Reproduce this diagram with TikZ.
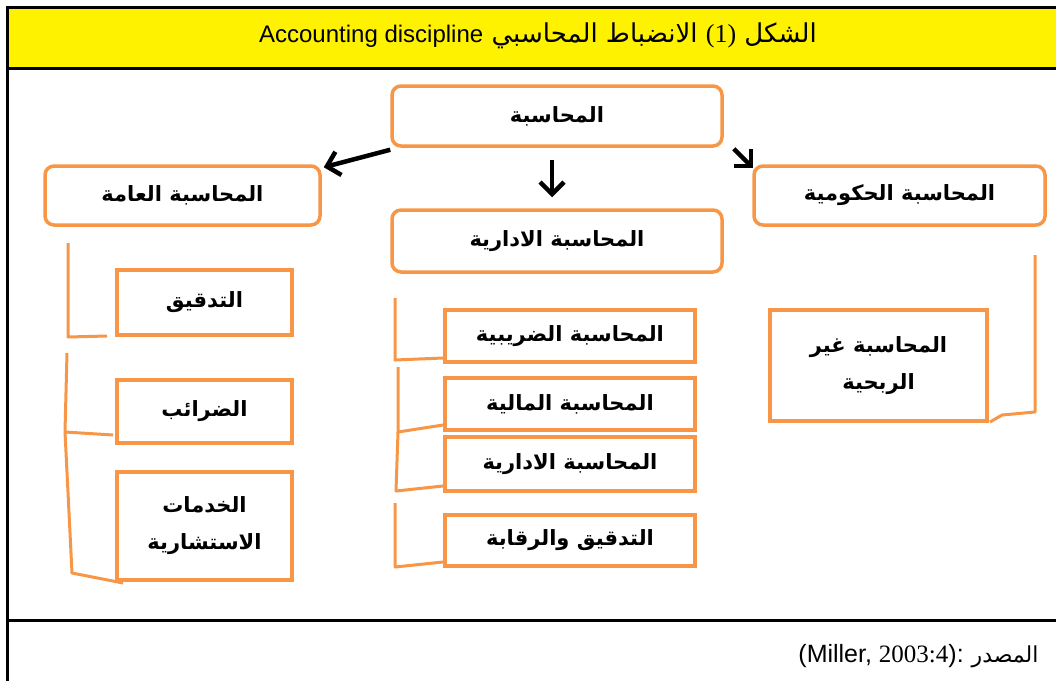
\documentclass[tikz,border=0pt]{standalone}
\usepackage{fontspec}
\usetikzlibrary{arrows.meta,calc}
\TeXXeTstate=1
\newfontfamily\arabicfont[Script=Arabic]{DejaVu Sans}
\newfontfamily\latinsans{Liberation Sans}
\newfontfamily\latinserif{Liberation Serif}
\definecolor{boxorange}{HTML}{F79646}
\newcommand\artext[1]{\beginR #1\endR}

\begin{document}
\begin{tikzpicture}[x=1pt,y=-1pt,
  boxfont/.style={font=\arabicfont\bfseries\fontsize{21}{37}\selectfont},
  rbox/.style={draw=boxorange, line width=3.5pt, rounded corners=9pt, fill=white,
               inner sep=0pt, align=center, boxfont},
  sbox/.style={draw=boxorange, line width=3.5pt, fill=white,
               inner sep=0pt, align=center, boxfont},
  bracket/.style={draw=boxorange, line width=3pt, line join=round},
  flow/.style={draw=black, line width=4.5pt,
               -{Straight Barb[length=12pt,width=24pt,line width=4.5pt]}},
  rule/.style={draw=black, line width=3pt}]

\useasboundingbox (0,0) rectangle (1056,681);

% title band and table rules
\fill[yellow] (8,7) rectangle (1056,68);
\draw[rule] (7,7) -- (1056,7);
\draw[rule] (7,68) -- (1056,68);
\draw[rule] (7,6) -- (7,681);
\draw[rule] (7,620) -- (1056,620);

\node[font=\arabicfont\fontsize{26}{30}\selectfont] (title) at (538,36)
  {\artext{الشكل \beginL{\latinserif(1)}\endL{} الانضباط المحاسبي \beginL{\latinsans\fontsize{24}{30}\selectfont Accounting discipline}\endL}};

\node[anchor=east] (source) at (1042,656)
  {{\latinsans\fontsize{25}{30}\selectfont(Miller, }{\latinserif\fontsize{25}{30}\selectfont 2003:4}{\latinsans\fontsize{25}{30}\selectfont ):}\hspace{8pt}{\arabicfont\fontsize{22}{30}\selectfont المصدر}};

% main categories
\node[rbox, minimum width=330pt, minimum height=60pt] (acc) at (557,116) {\artext{المحاسبة}};
\node[rbox, minimum width=275pt, minimum height=59pt] (gen) at (182.5,195.5) {\artext{المحاسبة العامة}};
\node[rbox, minimum width=291pt, minimum height=59pt] (gov) at (899.5,195.5) {\artext{المحاسبة الحكومية}};
\node[rbox, minimum width=330pt, minimum height=62pt] (mgmt) at (557,241) {\artext{المحاسبة الادارية}};

% arrows from the root
\draw[flow] ([yshift=-2pt]acc.south west) -- ([xshift=2pt,yshift=-3pt]gen.north east);
\draw[flow] ($(acc.south)+(-5,12)$) -- ($(mgmt.north)+(-5,-11)$);
\draw[flow] ($(acc.south east)+(10,1)$) -- ($(gov.north west)+(1,4)$);

% public accounting branch
\node[sbox, minimum width=175pt, minimum height=65pt] (audit) at (204.5,302.5) {\artext{التدقيق}};
\node[sbox, minimum width=175pt, minimum height=63pt] (tax) at (204.5,411.5) {\artext{الضرائب}};
\node[sbox, minimum width=175pt, minimum height=108pt] (consult) at (204.5,526)
  {\artext{الخدمات}\\\artext{الاستشارية}};

% management accounting branch
\node[sbox, minimum width=250pt, minimum height=52pt] (taxacc) at (570,336) {\artext{المحاسبة الضريبية}};
\node[sbox, minimum width=250pt, minimum height=52pt] (fin) at (570,404) {\artext{المحاسبة المالية}};
\node[sbox, minimum width=250pt, minimum height=54pt] (mgmt2) at (570,464) {\artext{المحاسبة الادارية}};
\node[sbox, minimum width=250pt, minimum height=51pt] (audctl) at (570,540.5) {\artext{التدقيق والرقابة}};

% government accounting branch
\node[sbox, minimum width=217pt, minimum height=111pt] (nonprofit) at (878.5,365.5)
  {\artext{المحاسبة غير}\\\artext{الربحية}};

% bracket lines, left column
\coordinate (la1) at (68,243);
\coordinate (la2) at (68,337);
\coordinate (la3) at (107,336);
\draw[bracket] (la1) -- (la2) -- (la3);
\coordinate (lb1) at (67,353);
\coordinate (lb2) at (65,432);
\coordinate (lb3) at (113,435);
\coordinate (lb4) at (72,573);
\coordinate (lb5) at (123,583);
\draw[bracket] (lb1) -- (lb2) -- (lb3);
\draw[bracket] (lb2) -- (lb4) -- (lb5);

% bracket lines, middle column
\coordinate (ma1) at (395,298);
\coordinate (ma2) at (395,360);
\coordinate (ma3) at (443,358);
\draw[bracket] (ma1) -- (ma2) -- (ma3);
\coordinate (mb1) at (398,367);
\coordinate (mb2) at (398,432);
\coordinate (mb3) at (443,425);
\coordinate (mb4) at (396,491);
\coordinate (mb5) at (443,486);
\draw[bracket] (mb1) -- (mb2) -- (mb3);
\draw[bracket] (mb2) -- (mb4) -- (mb5);
\coordinate (mc1) at (395,503);
\coordinate (mc2) at (395,567);
\coordinate (mc3) at (443,562);
\draw[bracket] (mc1) -- (mc2) -- (mc3);

% bracket line, right column
\coordinate (ra1) at (1035,255);
\coordinate (ra2) at (1035,412);
\coordinate (ra3) at (1002,415);
\coordinate (ra4) at (990,422);
\draw[bracket] (ra1) -- (ra2) -- (ra3) -- (ra4);

\end{tikzpicture}
\end{document}
